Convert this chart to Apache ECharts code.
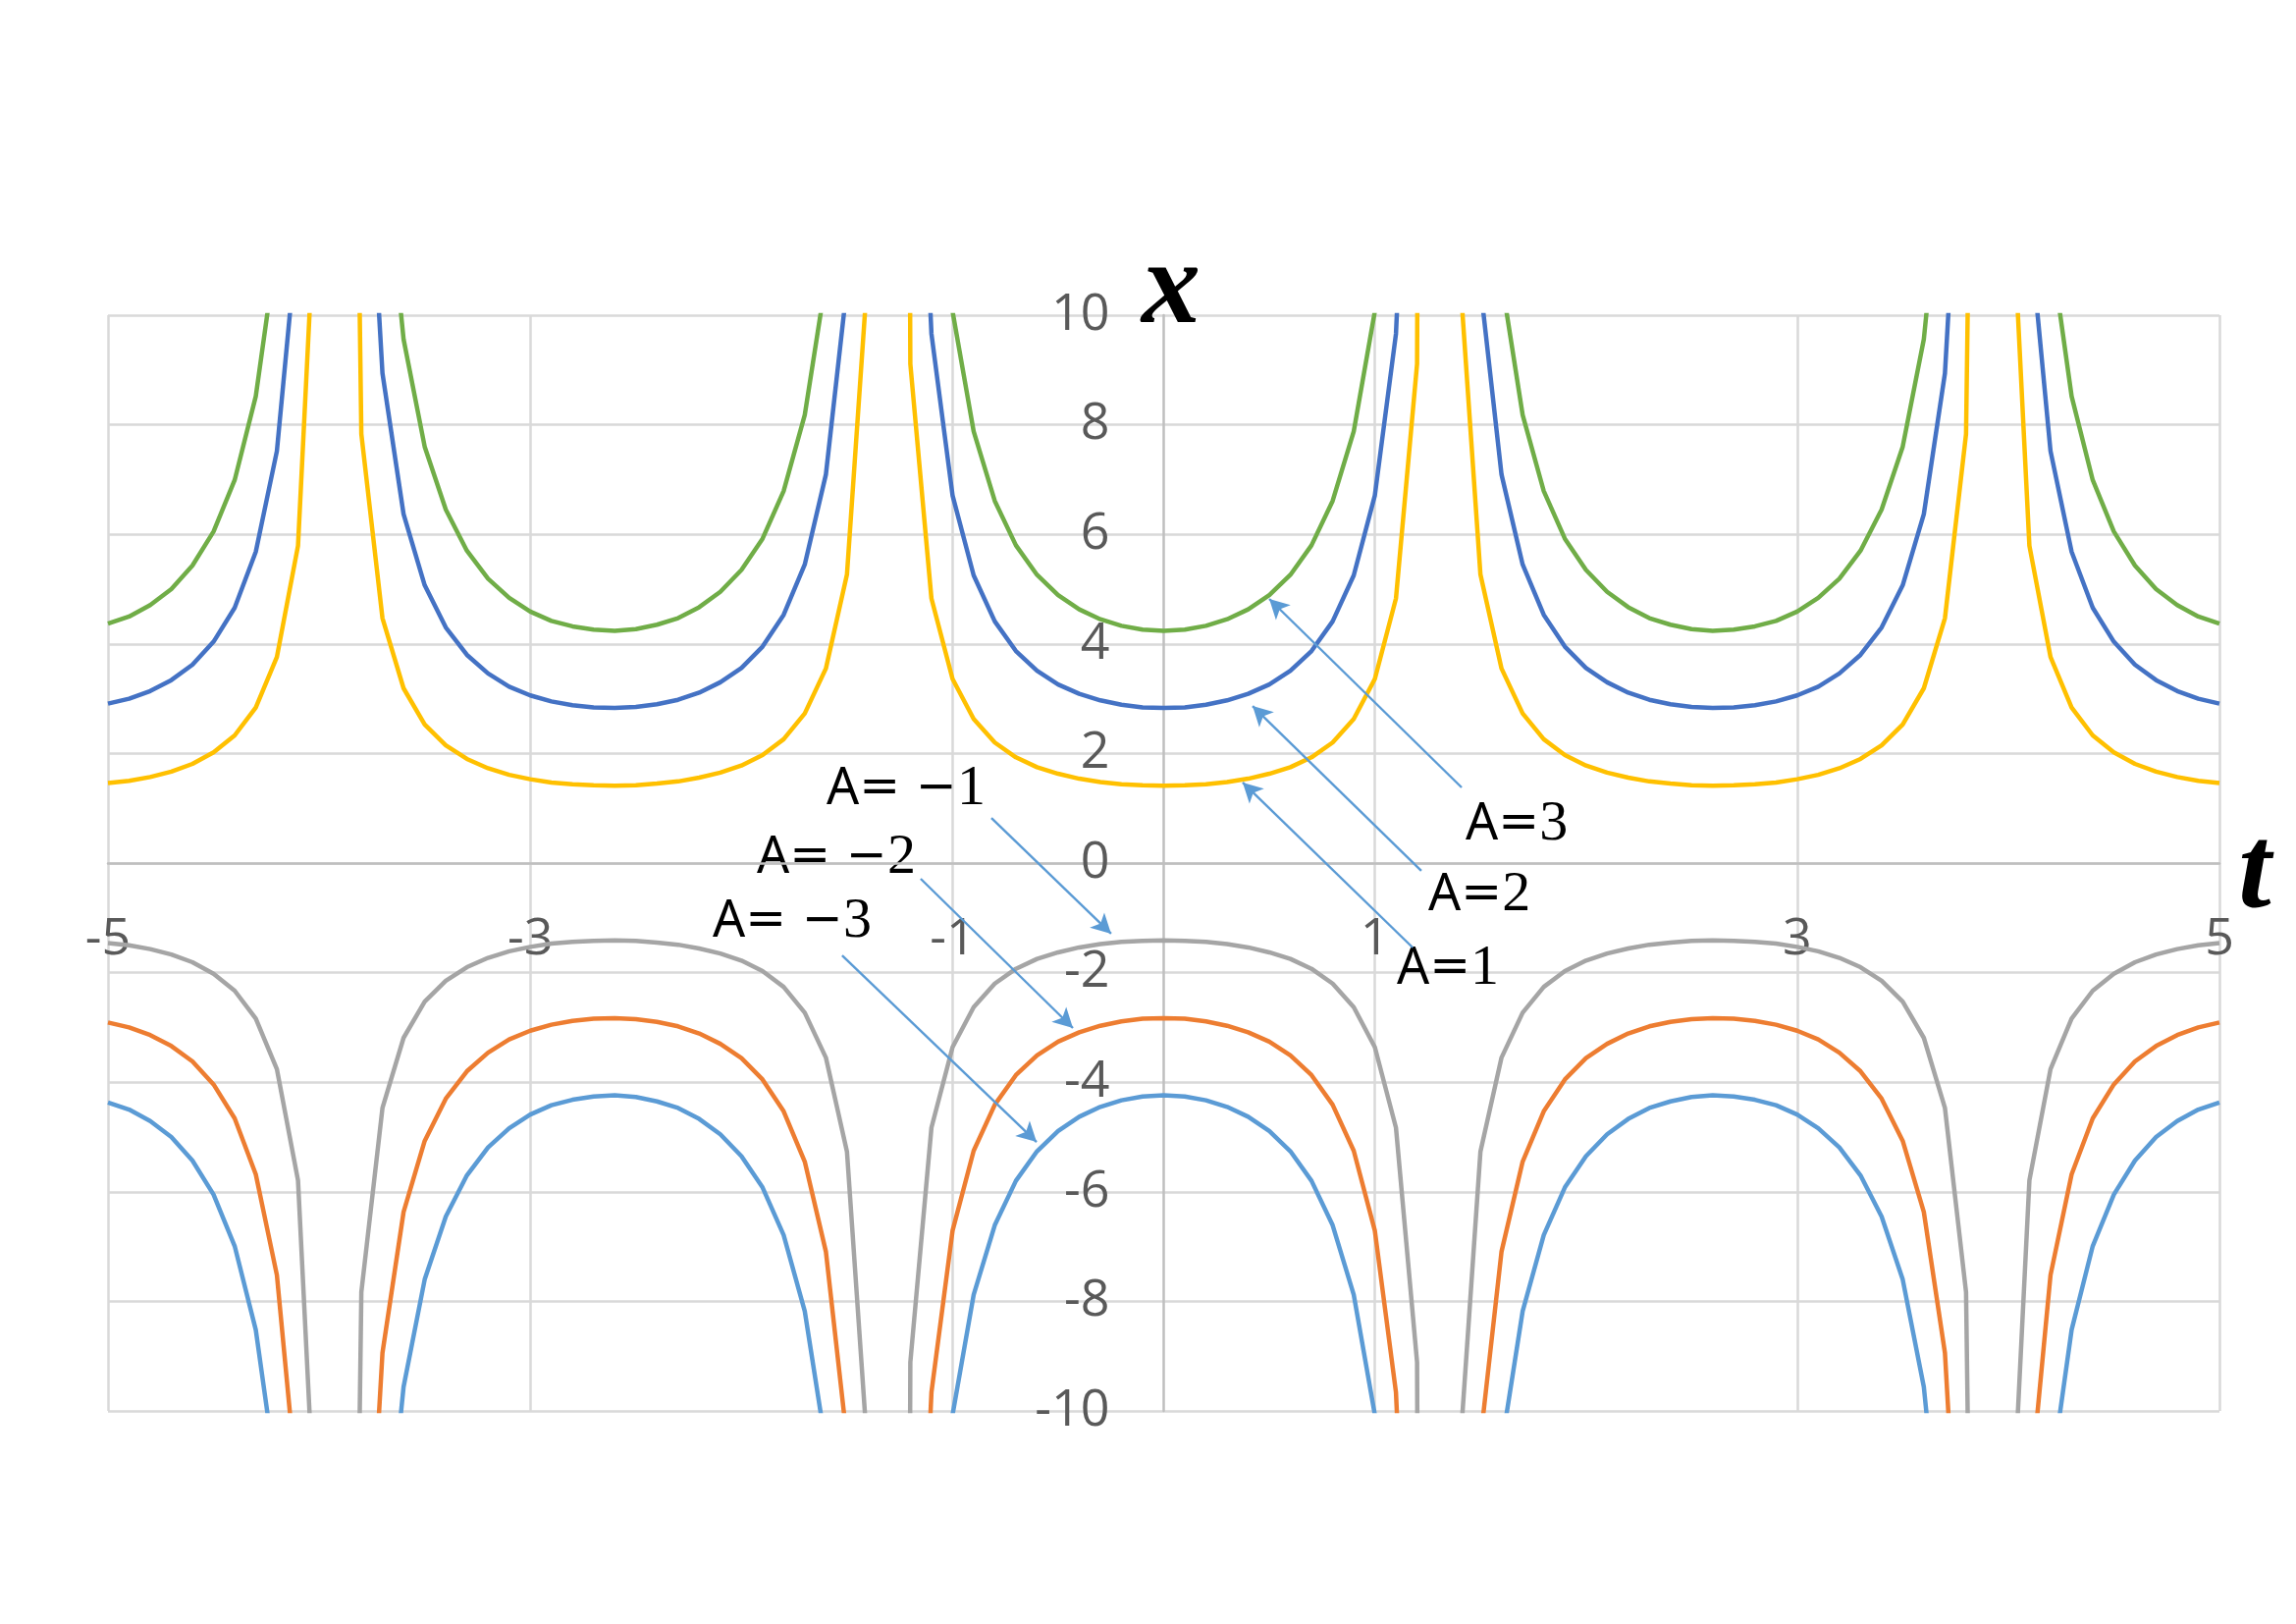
<!DOCTYPE html>
<html>
<head>
<meta charset="utf-8">
<script src="https://cdn.jsdelivr.net/npm/echarts@6/dist/echarts.min.js"></script>
<style>
  html, body { margin: 0; padding: 0; background: #fff; }
  #chart { width: 2339px; height: 1654px; }
</style>
</head>
<body>
<div id="chart"></div>
<script>
// t from -5 to 5, step 0.1
var tValues = [-5,-4.9,-4.8,-4.7,-4.6,-4.5,-4.4,-4.3,-4.2,-4.1,-4,-3.9,-3.8,-3.7,-3.6,-3.5,-3.4,-3.3,-3.2,-3.1,
  -3,-2.9,-2.8,-2.7,-2.6,-2.5,-2.4,-2.3,-2.2,-2.1,-2,-1.9,-1.8,-1.7,-1.6,-1.5,-1.4,-1.3,-1.2,-1.1,
  -1,-0.9,-0.8,-0.7,-0.6,-0.5,-0.4,-0.3,-0.2,-0.1,0,0.1,0.2,0.3,0.4,0.5,0.6,0.7,0.8,0.9,
  1,1.1,1.2,1.3,1.4,1.5,1.6,1.7,1.8,1.9,2,2.1,2.2,2.3,2.4,2.5,2.6,2.7,2.8,2.9,
  3,3.1,3.2,3.3,3.4,3.5,3.6,3.7,3.8,3.9,4,4.1,4.2,4.3,4.4,4.5,4.6,4.7,4.8,4.9,5];

var xA1 = [1.46,1.50,1.57,1.67,1.81,2.02,2.33,2.84,3.76,5.79,13.55,36.55,7.83,4.47,3.19,2.53,2.15,1.90,1.73,1.61,
  1.53,1.47,1.44,1.42,1.41,1.42,1.45,1.49,1.56,1.65,1.78,1.97,2.26,2.73,3.55,5.27,10.88,109.6,9.11,4.83,
  3.36,2.63,2.20,1.93,1.75,1.63,1.54,1.48,1.44,1.42,1.41,1.42,1.44,1.48,1.54,1.63,1.75,1.93,2.20,2.63,
  3.36,4.83,9.11,109.6,10.88,5.27,3.55,2.73,2.26,1.97,1.78,1.65,1.56,1.49,1.45,1.42,1.41,1.42,1.44,1.47,
  1.53,1.61,1.73,1.90,2.15,2.53,3.19,4.47,7.83,36.55,13.55,5.79,3.76,2.84,2.33,2.02,1.81,1.67,1.57,1.50,1.46];

var xA2 = [2.91,3.00,3.14,3.34,3.62,4.04,4.66,5.68,7.52,11.59,27.09,73.1,15.67,8.94,6.37,5.07,4.30,3.80,3.46,3.22,
  3.06,2.95,2.88,2.84,2.83,2.85,2.90,2.98,3.11,3.30,3.56,3.95,4.53,5.45,7.09,10.53,21.77,219.2,18.21,9.66,
  6.71,5.25,4.41,3.87,3.51,3.26,3.09,2.97,2.89,2.84,2.83,2.84,2.89,2.97,3.09,3.26,3.51,3.87,4.41,5.25,
  6.71,9.66,18.21,219.2,21.77,10.53,7.09,5.45,4.53,3.95,3.56,3.30,3.11,2.98,2.90,2.85,2.83,2.84,2.88,2.95,
  3.06,3.22,3.46,3.80,4.30,5.07,6.37,8.94,15.67,73.1,27.09,11.59,7.52,5.68,4.66,4.04,3.62,3.34,3.14,3.00,2.91];

var xA3 = [4.37,4.50,4.71,5.00,5.43,6.05,6.99,8.52,11.27,17.38,40.64,109.7,23.51,13.40,9.56,7.60,6.45,5.70,5.19,4.84,
  4.59,4.42,4.32,4.26,4.24,4.27,4.35,4.47,4.67,4.95,5.35,5.92,6.79,8.18,10.64,15.80,32.65,328.8,27.32,14.49,
  10.07,7.88,6.61,5.80,5.26,4.89,4.63,4.45,4.33,4.26,4.24,4.26,4.33,4.45,4.63,4.89,5.26,5.80,6.61,7.88,
  10.07,14.49,27.32,328.8,32.65,15.80,10.64,8.18,6.79,5.92,5.35,4.95,4.67,4.47,4.35,4.27,4.24,4.26,4.32,4.42,
  4.59,4.84,5.19,5.70,6.45,7.60,9.56,13.40,23.51,109.7,40.64,17.38,11.27,8.52,6.99,6.05,5.43,5.00,4.71,4.50,4.37];

var xAm1 = [-1.46,-1.50,-1.57,-1.67,-1.81,-2.02,-2.33,-2.84,-3.76,-5.79,-13.55,-36.55,-7.83,-4.47,-3.19,-2.53,-2.15,-1.90,-1.73,-1.61,
  -1.53,-1.47,-1.44,-1.42,-1.41,-1.42,-1.45,-1.49,-1.56,-1.65,-1.78,-1.97,-2.26,-2.73,-3.55,-5.27,-10.88,-109.6,-9.11,-4.83,
  -3.36,-2.63,-2.20,-1.93,-1.75,-1.63,-1.54,-1.48,-1.44,-1.42,-1.41,-1.42,-1.44,-1.48,-1.54,-1.63,-1.75,-1.93,-2.20,-2.63,
  -3.36,-4.83,-9.11,-109.6,-10.88,-5.27,-3.55,-2.73,-2.26,-1.97,-1.78,-1.65,-1.56,-1.49,-1.45,-1.42,-1.41,-1.42,-1.44,-1.47,
  -1.53,-1.61,-1.73,-1.90,-2.15,-2.53,-3.19,-4.47,-7.83,-36.55,-13.55,-5.79,-3.76,-2.84,-2.33,-2.02,-1.81,-1.67,-1.57,-1.50,-1.46];

var xAm2 = [-2.91,-3.00,-3.14,-3.34,-3.62,-4.04,-4.66,-5.68,-7.52,-11.59,-27.09,-73.1,-15.67,-8.94,-6.37,-5.07,-4.30,-3.80,-3.46,-3.22,
  -3.06,-2.95,-2.88,-2.84,-2.83,-2.85,-2.90,-2.98,-3.11,-3.30,-3.56,-3.95,-4.53,-5.45,-7.09,-10.53,-21.77,-219.2,-18.21,-9.66,
  -6.71,-5.25,-4.41,-3.87,-3.51,-3.26,-3.09,-2.97,-2.89,-2.84,-2.83,-2.84,-2.89,-2.97,-3.09,-3.26,-3.51,-3.87,-4.41,-5.25,
  -6.71,-9.66,-18.21,-219.2,-21.77,-10.53,-7.09,-5.45,-4.53,-3.95,-3.56,-3.30,-3.11,-2.98,-2.90,-2.85,-2.83,-2.84,-2.88,-2.95,
  -3.06,-3.22,-3.46,-3.80,-4.30,-5.07,-6.37,-8.94,-15.67,-73.1,-27.09,-11.59,-7.52,-5.68,-4.66,-4.04,-3.62,-3.34,-3.14,-3.00,-2.91];

var xAm3 = [-4.37,-4.50,-4.71,-5.00,-5.43,-6.05,-6.99,-8.52,-11.27,-17.38,-40.64,-109.7,-23.51,-13.40,-9.56,-7.60,-6.45,-5.70,-5.19,-4.84,
  -4.59,-4.42,-4.32,-4.26,-4.24,-4.27,-4.35,-4.47,-4.67,-4.95,-5.35,-5.92,-6.79,-8.18,-10.64,-15.80,-32.65,-328.8,-27.32,-14.49,
  -10.07,-7.88,-6.61,-5.80,-5.26,-4.89,-4.63,-4.45,-4.33,-4.26,-4.24,-4.26,-4.33,-4.45,-4.63,-4.89,-5.26,-5.80,-6.61,-7.88,
  -10.07,-14.49,-27.32,-328.8,-32.65,-15.80,-10.64,-8.18,-6.79,-5.92,-5.35,-4.95,-4.67,-4.47,-4.35,-4.27,-4.24,-4.26,-4.32,-4.42,
  -4.59,-4.84,-5.19,-5.70,-6.45,-7.60,-9.56,-13.40,-23.51,-109.7,-40.64,-17.38,-11.27,-8.52,-6.99,-6.05,-5.43,-5.00,-4.71,-4.50,-4.37];

// annotation arrows: [tail, head] in (t, x)
var arrows = [
  [[1.411, 1.380], [0.500, 4.821]],
  [[1.220, -0.143], [0.421, 2.867]],
  [[1.179, -1.541], [0.374, 1.470]],
  [[-0.816, 0.824], [-0.249, -1.290]],
  [[-1.151, -0.287], [-0.430, -3.011]],
  [[-1.523, -1.685], [-0.602, -5.090]]
];
// annotation labels: [left t, middle x, text after "A=" ]
var labels = [
  [1.430, 0.699, '', '3'],
  [1.253, -0.591, '', '2'],
  [1.104, -1.935, '', '1'],
  [-1.597, 1.344, ' \u2212', '1'],
  [-1.927, 0.090, ' \u2212', '2'],
  [-2.136, -1.075, ' \u2212', '3']
];

var gridBox = { left: 110, top: 321, width: 2151, height: 1116 };

function pairs(arr) {
  return tValues.map(function (t, i) { return [t, arr[i]]; });
}

function line(name, arr, color) {
  return {
    name: name,
    type: 'line',
    data: pairs(arr),
    showSymbol: false,
    symbol: 'none',
    smooth: false,
    clip: true,
    lineStyle: { color: color, width: 4.5 },
    itemStyle: { color: color },
    emphasis: { disabled: true }
  };
}

var chart = echarts.init(document.getElementById('chart'));

var labelFont = { fontSize: 52, color: '#595959', fontFamily: 'Open Sans' };

var series = [
  line('A=2', xA2, '#4472C4'),
  line('A=-2', xAm2, '#ED7D31'),
  line('A=-1', xAm1, '#A5A5A5'),
  line('A=1', xA1, '#FFC000'),
  line('A=-3', xAm3, '#5B9BD5'),
  line('A=3', xA3, '#70AD47')
];
series[5].markLine = {
  silent: true,
  animation: false,
  symbol: ['none', 'arrow'],
  symbolSize: [16, 20],
  label: { show: false },
  lineStyle: { color: '#5B9BD5', width: 2.4, type: 'solid' },
  emphasis: { disabled: true },
  data: arrows.map(function (a) { return [{ coord: a[0] }, { coord: a[1] }]; })
};

// axes cross at (0, 0): move them there with offsets
var yZeroOffset = -gridBox.width / 2;   // t = 0 is the middle of the t range
var xZeroOffset = -gridBox.height / 2;  // x = 0 is the middle of the x range

chart.setOption({
  animation: false,
  backgroundColor: '#fff',
  grid: { left: gridBox.left, top: gridBox.top, width: gridBox.width, height: gridBox.height,
    containLabel: false, outerBoundsMode: 'none' },
  xAxis: {
    type: 'value', min: -5, max: 5, interval: 2,
    position: 'bottom', offset: xZeroOffset,
    axisLine: { onZero: false, lineStyle: { color: '#BFBFBF', width: 2.5 } },
    axisTick: { show: false },
    axisLabel: Object.assign({ margin: 52, showMinLabel: true, showMaxLabel: true }, labelFont),
    splitLine: { show: true, lineStyle: { color: '#D9D9D9', width: 2.5 } }
  },
  yAxis: {
    type: 'value', min: -10, max: 10, interval: 2,
    position: 'left', offset: yZeroOffset,
    axisLine: { onZero: false, lineStyle: { color: '#BFBFBF', width: 2.5 } },
    axisTick: { show: false },
    axisLabel: Object.assign({ margin: 55 }, labelFont),
    splitLine: { show: true, lineStyle: { color: '#D9D9D9', width: 2.5 } }
  },
  series: series
});

// text annotations placed through the grid's own scales
var graphics = labels.map(function (l) {
  var p = chart.convertToPixel({ gridIndex: 0 }, [l[0], l[1]]);
  return {
    type: 'text', x: p[0], y: p[1], silent: true,
    style: {
      text: '{s|A}{e|=' + l[2] + '}{m|' + l[3] + '}',
      align: 'left', verticalAlign: 'middle',
      rich: {
        s: { fontFamily: 'Noto Sans', fontSize: 52, fill: '#000' },
        e: { fontFamily: 'DejaVu Sans', fontSize: 50, fill: '#000' },
        m: { fontFamily: 'Liberation Serif', fontSize: 58, fill: '#000' }
      }
    }
  };
});
var px = chart.convertToPixel({ gridIndex: 0 }, [0.035, 10.43]);
graphics.push({
  type: 'text', x: px[0], y: px[1], silent: true,
  style: { text: 'x', fontFamily: 'Liberation Serif', fontStyle: 'italic', fontWeight: 'bold',
    fontSize: 120, fill: '#000', align: 'center', verticalAlign: 'middle' }
});
var pt = chart.convertToPixel({ gridIndex: 0 }, [5.167, -0.23]);
graphics.push({
  type: 'text', x: pt[0], y: pt[1], silent: true,
  style: { text: 't', fontFamily: 'Liberation Serif', fontStyle: 'italic', fontWeight: 'bold',
    fontSize: 120, fill: '#000', align: 'center', verticalAlign: 'middle' }
});
chart.setOption({ graphic: graphics });
</script>
</body>
</html>
